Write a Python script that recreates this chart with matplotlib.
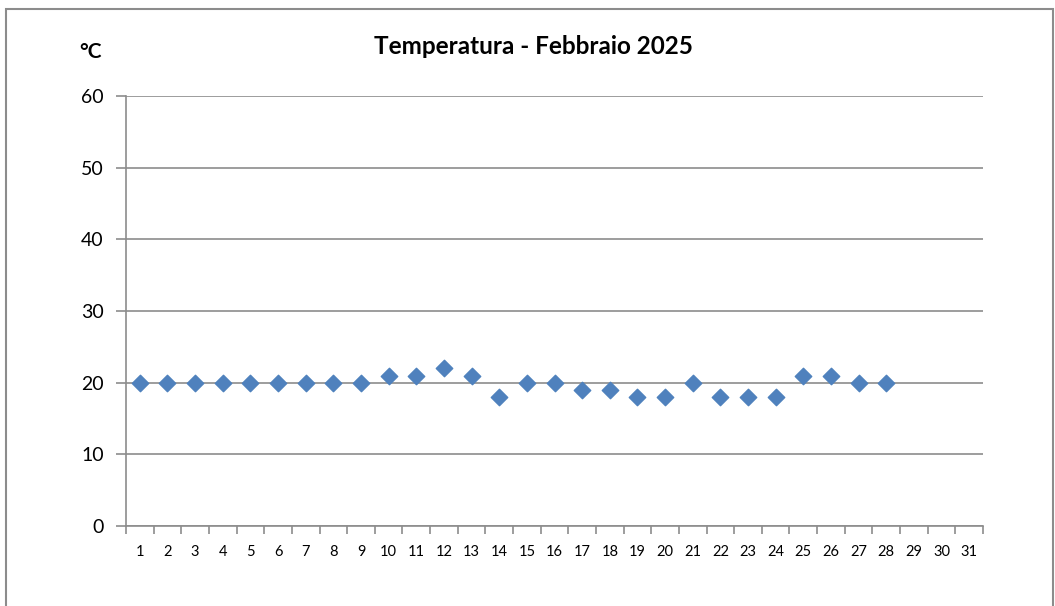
import numpy as np
import matplotlib.pyplot as plt
from matplotlib.patches import Rectangle

plt.rcParams['font.family'] = ['Lato', 'DejaVu Sans']

giorni = list(range(1, 29))
temperature = [20, 20, 20, 20, 20, 20, 20, 20, 20, 21,
               21, 22, 21, 18, 20, 20, 19, 19, 18, 18,
               20, 18, 18, 18, 21, 21, 20, 20]
etichette_x = [str(d) for d in range(1, 32)]
tick_y = [0, 10, 20, 30, 40, 50, 60]

grigio = '#8c8c8c'

fig = plt.figure(figsize=(10.55, 6.06), dpi=100)
fig.patches.append(Rectangle((6/1055, -0.1), 1047/1055, 1.1 - 9/606,
                             transform=fig.transFigure, fill=False,
                             edgecolor=grigio, linewidth=1.5))

ax = fig.add_axes([126/1055, 1 - 526/606, (983 - 126)/1055, (526 - 96)/606])

ax.scatter(giorni, temperature, marker='D', s=70, color='#4F81BD',
           edgecolors='#4F81BD', zorder=3, clip_on=False)

ax.set_xlim(0.5, 31.5)
ax.set_ylim(0, 60)

ax.set_yticks(tick_y)
ax.set_yticklabels([str(v) for v in tick_y], fontsize=14)
ax.yaxis.grid(True, color=grigio, linewidth=1.2)
ax.set_axisbelow(True)

ax.set_xticks(np.arange(0.5, 32, 1))
ax.set_xticklabels([])
ax.set_xticks(range(1, 32), minor=True)
ax.set_xticklabels(etichette_x, minor=True, fontsize=10.5)
ax.tick_params(axis='x', which='major', length=6, color=grigio, width=1.2)
ax.tick_params(axis='x', which='minor', length=0, pad=14)
ax.tick_params(axis='y', length=7, color=grigio, width=1.2, pad=9)

for s in ['top', 'right']:
    ax.spines[s].set_visible(False)
for s in ['left', 'bottom']:
    ax.spines[s].set_color(grigio)
    ax.spines[s].set_linewidth(1.2)

fig.text(533/1055, 1 - 47/606, 'Temperatura - Febbraio 2025', ha='center',
         va='center', fontsize=17.5, fontweight='bold')
fig.text(90/1055, 1 - 52/606, '°C', ha='center', va='center',
         fontsize=15, fontweight='bold')

fig.savefig('out.png', dpi=100)
